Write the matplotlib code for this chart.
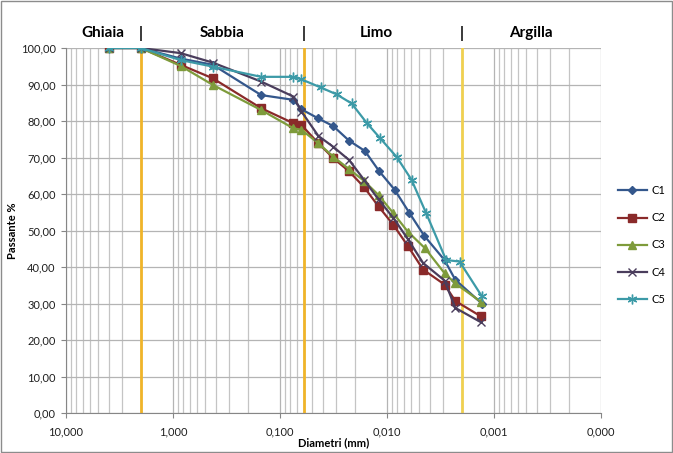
import matplotlib
matplotlib.use('Agg')
import matplotlib.pyplot as plt
from matplotlib.patches import Rectangle
from matplotlib.ticker import FixedLocator, FuncFormatter, LogLocator, NullFormatter

plt.rcParams['font.family'] = ['Lato', 'DejaVu Sans']

# Data --------------------------------------------------
c1_d = [4, 2, 0.85, 0.425, 0.15, 0.075, 0.063, 0.0438, 0.0318, 0.0226, 0.0161, 0.0118, 0.0085, 0.0062, 0.0045, 0.0029, 0.0023, 0.0013]
c1_p = [100, 100, 97.1, 95.4, 87.1, 85.8, 83.2, 80.7, 78.6, 74.6, 71.8, 66.2, 61.2, 54.9, 48.6, 41.9, 36.5, 30.0]

c2_d = [4, 2, 0.85, 0.425, 0.15, 0.075, 0.063, 0.0438, 0.0317, 0.0226, 0.0164, 0.0120, 0.0087, 0.0064, 0.0046, 0.0029, 0.0023, 0.00133]
c2_p = [100, 100, 95.4, 91.7, 83.5, 79.4, 78.9, 73.9, 69.8, 66.2, 61.9, 56.6, 51.5, 45.8, 39.3, 35.2, 30.7, 26.5]

c3_d = [4, 2, 0.85, 0.425, 0.15, 0.075, 0.063, 0.0438, 0.0317, 0.0226, 0.0164, 0.0120, 0.0087, 0.0064, 0.0044, 0.0029, 0.0023, 0.00133]
c3_p = [100, 100, 95.1, 89.9, 83.0, 78.0, 77.6, 73.9, 70.2, 66.8, 63.6, 59.7, 54.7, 49.7, 45.1, 38.3, 35.5, 30.5]

c4_d = [4, 2, 0.85, 0.425, 0.15, 0.075, 0.063, 0.0438, 0.0317, 0.0226, 0.0164, 0.0120, 0.0087, 0.0064, 0.0046, 0.0029, 0.0023, 0.00133]
c4_p = [100, 100, 98.6, 96.0, 90.8, 86.7, 82.6, 75.9, 72.9, 69.3, 63.9, 58.5, 53.4, 47.7, 41.1, 36.3, 28.8, 24.9]

c5_d = [4, 2, 0.85, 0.425, 0.15, 0.075, 0.063, 0.0417, 0.0296, 0.0214, 0.0154, 0.0116, 0.0081, 0.0059, 0.0043, 0.0028, 0.0021, 0.0013]
c5_p = [100, 100, 96.7, 94.9, 92.1, 92.1, 91.4, 89.2, 87.3, 84.8, 79.4, 75.3, 70.1, 63.9, 54.7, 41.9, 41.5, 32.0]

limits = [2, 0.06, 0.002]
classes = ['Ghiaia', 'Sabbia', 'Limo', 'Argilla']
class_x = [4.5, 0.35, 0.0125, 0.00045]

x_ticks = [10, 1, 0.1, 0.01, 0.001, 0.0001]
y_ticks = list(range(0, 101, 10))

# Plot --------------------------------------------------
fig = plt.figure(figsize=(6.73, 4.53), dpi=100)
ax = fig.add_axes([66 / 673, 40 / 453, 535 / 673, 365 / 453])

series = [
    ('C1', c1_d, c1_p, '#34578c', 'D', 4.5),
    ('C2', c2_d, c2_p, '#8a2a2a', 's', 6),
    ('C3', c3_d, c3_p, '#7e9b3b', '^', 6),
    ('C4', c4_d, c4_p, '#4a3d5c', 'x', 5.5),
    ('C5', c5_d, c5_p, '#3c9aa7', (6, 2, 0), 7),
]
for name, d, p, col, mk, ms in series:
    ax.plot(d, p, color=col, lw=1.6, marker=mk, ms=ms, mew=1.0,
            mec=col, mfc=col, label=name, zorder=3)

for i, lim in enumerate(limits):
    ax.axvline(lim, color='#f0b429' if i < 2 else '#f0d050', lw=2, zorder=2)

ax.set_xscale('log')
ax.set_xlim(10, 0.0001)
ax.set_ylim(0, 100)
ax.xaxis.set_major_locator(FixedLocator(x_ticks))
ax.xaxis.set_minor_locator(LogLocator(base=10, subs=range(2, 10), numticks=20))
ax.xaxis.set_minor_formatter(NullFormatter())
ax.xaxis.set_major_formatter(FuncFormatter(lambda v, pos: ('%.3f' % v).replace('.', ',')))
ax.set_yticks(y_ticks)
ax.yaxis.set_major_formatter(FuncFormatter(lambda v, pos: ('%.2f' % v).replace('.', ',')))

ax.grid(True, which='major', color='#b4b4b4', lw=0.9, zorder=1)
ax.grid(True, which='minor', axis='x', color='#c4c4c4', lw=0.9, zorder=1)
ax.set_axisbelow(True)

for s in ['top', 'right']:
    ax.spines[s].set_visible(False)
for s in ['left', 'bottom']:
    ax.spines[s].set_color('#868686')
ax.tick_params(axis='both', which='major', labelsize=8, color='#868686', length=3.5, labelcolor='#202020')
ax.tick_params(axis='x', which='major', pad=6)
ax.tick_params(axis='y', which='major', pad=4)
ax.tick_params(axis='x', which='minor', length=0)

ax.set_xlabel('Diametri (mm)', fontsize=8, fontweight='bold', labelpad=0)
ax.set_ylabel('Passante %', fontsize=8, fontweight='bold', labelpad=2)

for name, xx in zip(classes, class_x):
    ax.text(xx, 1.04, name, transform=ax.get_xaxis_transform(), ha='center', va='center',
            fontsize=11, fontweight='bold')
for lim in limits:
    ax.text(lim, 1.04, '|', transform=ax.get_xaxis_transform(), ha='center', va='center',
            fontsize=11, fontweight='bold')

ax.legend(loc='center left', bbox_to_anchor=(608 / 673, 1 - 245 / 453), bbox_transform=fig.transFigure,
          frameon=False, fontsize=8, handlelength=2.6, labelspacing=1.45, handletextpad=0.4)

fig.patches.append(Rectangle((0.002, 0.003), 0.996, 0.994, transform=fig.transFigure,
                             fill=False, edgecolor='#8c8c8c', lw=1))

fig.savefig('out.png', dpi=100)
